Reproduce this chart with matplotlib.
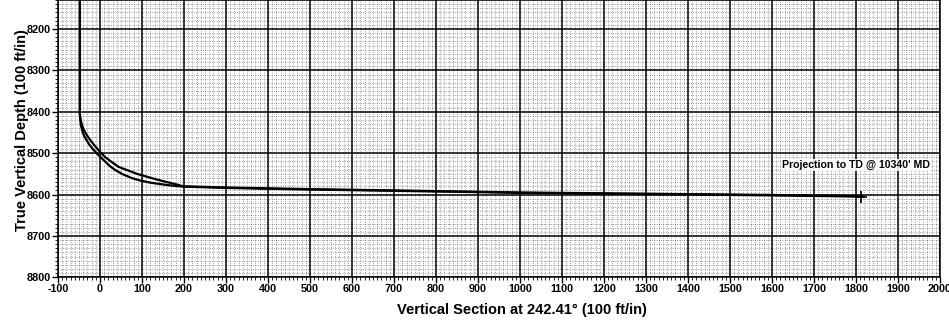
import matplotlib
matplotlib.use("Agg")
import matplotlib.pyplot as plt
from matplotlib.ticker import MultipleLocator

plt.rcParams['font.family'] = ['Liberation Sans', 'DejaVu Sans']
plt.rcParams['font.weight'] = 'bold'
plt.rcParams['axes.unicode_minus'] = False

# Planned well path (vertical section ft, TVD ft)
plan_vs = [-48, -48, -47.5, -46, -43.5, -40, -35, -29, -22, -14, -6, 3, 13, 26, 44,
           62, 88, 105, 122, 140, 160, 180, 198,
           300, 500, 700, 1000, 1200, 1400, 1600, 1810]
plan_tvd = [8130, 8400, 8410, 8420, 8430, 8440, 8450, 8460, 8470, 8480, 8490, 8500, 8510, 8520, 8533,
            8540, 8550, 8555, 8560, 8565, 8570, 8575, 8580,
            8583, 8587, 8590, 8595, 8597, 8599, 8601, 8604]

# Actual survey path
act_vs = [-48, -48, -47, -45, -41, -37, -31, -25, -17, -8, 2, 12, 22, 35, 52, 75, 95, 118,
          145, 168, 198,
          300, 500, 700, 1000, 1200, 1400, 1600, 1817]
act_tvd = [8130, 8405, 8420, 8435, 8450, 8460, 8470, 8480, 8490, 8500, 8510, 8520, 8530, 8540,
           8550, 8560, 8566, 8571, 8575, 8578, 8581,
           8584, 8588, 8591, 8596, 8598, 8600, 8602, 8605]

td_vs = [1812]
td_tvd = [8605]
td_label = "Projection to TD @ 10340' MD"

fig = plt.figure(figsize=(9.49, 3.20), dpi=100)
ax = fig.add_axes([0.0611, 0.1334, 0.9294, 0.8666])

ax.set_xlim(-100, 2000)
ax.set_ylim(8800, 8130)

ax.xaxis.set_major_locator(MultipleLocator(100))
ax.xaxis.set_minor_locator(MultipleLocator(10))
ax.yaxis.set_major_locator(MultipleLocator(100))
ax.yaxis.set_minor_locator(MultipleLocator(10))

ax.grid(which='minor', color='black', linewidth=0.55, linestyle=(0, (1, 2)), alpha=0.6)
ax.grid(which='major', color='black', linewidth=1.1)
ax.set_axisbelow(True)

ax.plot(plan_vs, plan_tvd, color='black', linewidth=1.6, zorder=3)
ax.plot(act_vs, act_tvd, color='black', linewidth=1.6, zorder=3)
ax.plot(td_vs, td_tvd, marker='+', color='black', markersize=8, mew=1.2, zorder=4)

ax.text(1625, 8528, td_label, fontsize=7.6, fontweight='bold', ha='left', va='center',
        bbox=dict(facecolor='white', edgecolor='none', pad=0.5, alpha=0.85), zorder=5)

ax.tick_params(which='major', direction='out', length=4, width=1, labelsize=7.8, pad=1)
ax.tick_params(which='minor', direction='out', length=2, width=0.6)
for lbl in ax.get_xticklabels() + ax.get_yticklabels():
    lbl.set_fontweight('bold')

for s in ax.spines.values():
    s.set_linewidth(1.1)

ax.set_xlabel('Vertical Section at 242.41° (100 ft/in)', fontsize=10.5, fontweight='bold')
ax.xaxis.set_label_coords(0.526, -0.094)
ax.set_ylabel('True Vertical Depth (100 ft/in)', fontsize=10.5, fontweight='bold')
ax.yaxis.set_label_coords(-0.033, 0.53)

fig.savefig('out.png', dpi=100)
